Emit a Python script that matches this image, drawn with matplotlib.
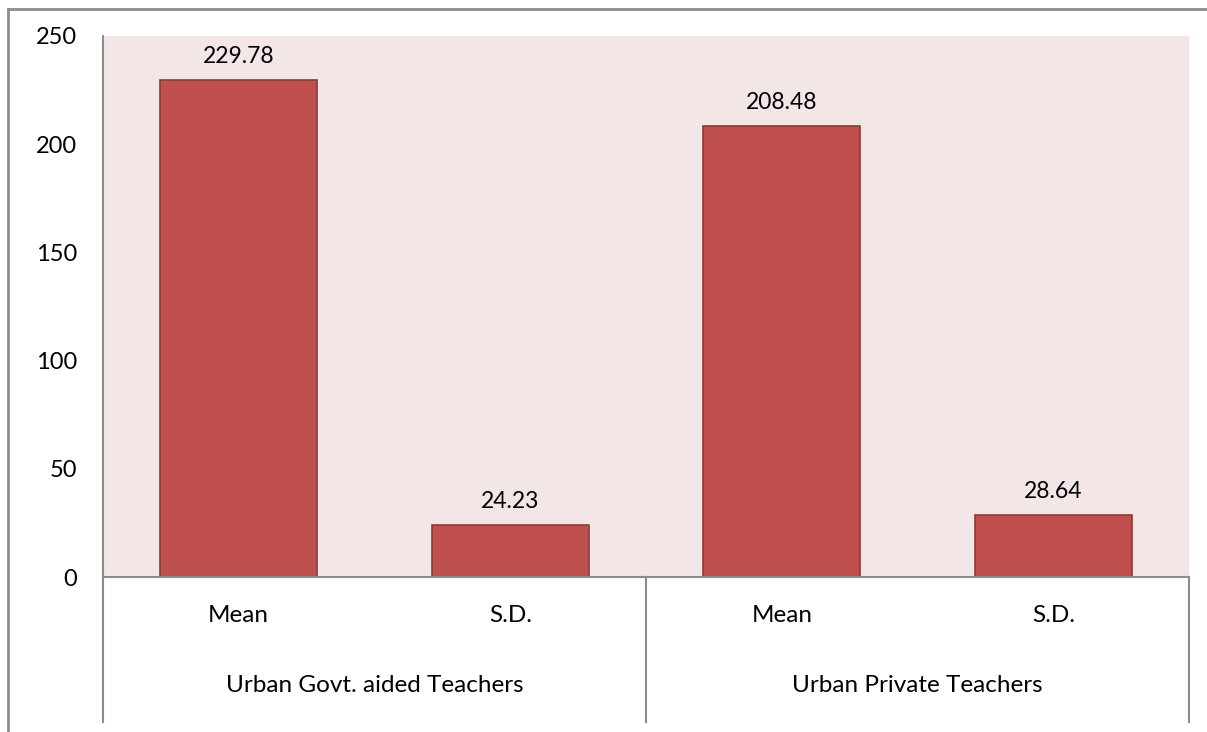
import matplotlib.pyplot as plt
from matplotlib.lines import Line2D

stats = ['Mean', 'S.D.', 'Mean', 'S.D.']
groups = ['Urban Govt. aided Teachers', 'Urban Private Teachers']
values = [229.78, 24.23, 208.48, 28.64]

plt.rcParams['font.family'] = ['Lato', 'DejaVu Sans']

W, H = 1207, 732
TOP, BOT = 36, 577
fig = plt.figure(figsize=(W / 100, H / 100), dpi=100)
ax = fig.add_axes([103 / W, 1 - BOT / H, (1189 - 103) / W, (BOT - TOP) / H])
ax.set_facecolor('#F2E7E6')

x = list(range(len(values)))
bars = ax.bar(x, values, width=0.58, color='#C0504D', edgecolor='#8E3A38', linewidth=1.2)
for xi, v in zip(x, values):
    ax.text(xi, v + 6, f'{v:.2f}', ha='center', va='bottom', fontsize=16.5)

ax.set_xlim(-0.5, len(values) - 0.5)
ax.set_ylim(0, 250)
ax.set_yticks(range(0, 251, 50))
ax.tick_params(axis='y', length=0, pad=18.5, labelsize=17)
ax.set_xticks([])
for s in ['top', 'right']:
    ax.spines[s].set_visible(False)
for s in ['left', 'bottom']:
    ax.spines[s].set_color('#8C8C8C')
    ax.spines[s].set_linewidth(1.5)

# category table under the axis
span = BOT - TOP
for xv in [0.0, 0.5, 1.0]:
    ax.add_line(Line2D([xv, xv], [0, -(722 - BOT) / span], transform=ax.transAxes,
                       color='#8C8C8C', lw=1.5, clip_on=False))
for xi, s in zip(x, stats):
    ax.text((xi + 0.5) / len(values), -(616 - BOT) / span, s, transform=ax.transAxes,
            ha='center', va='center', fontsize=17.5)
for gi, g in enumerate(groups):
    ax.text(0.25 + 0.5 * gi, -(686 - BOT) / span, g, transform=ax.transAxes,
            ha='center', va='center', fontsize=17.5)

# outer chart frame
fig.add_artist(Line2D([7.5 / W, 7.5 / W], [0, 1 - 9 / H], color='#8C8C8C', lw=2))
fig.add_artist(Line2D([7.5 / W, 1], [1 - 9 / H, 1 - 9 / H], color='#8C8C8C', lw=2))

fig.savefig('out.png', dpi=100, facecolor='white')
